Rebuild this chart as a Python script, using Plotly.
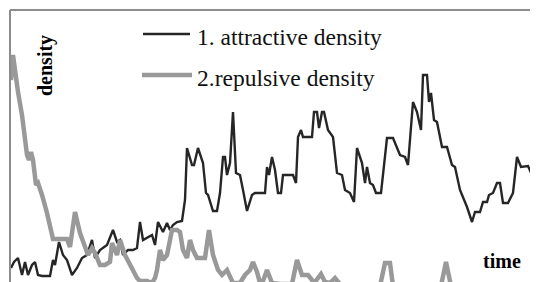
import plotly.graph_objects as go

# Series (time units, density units)
attr_time = [1,4,8,12,15,18,22,25,28,32,40,43,45,49,53,57,62,67,72,77,82,85,90,97,103,107,110,113,118,123,127,130,133,137,142,145,148,153,157,160,163,167,172,175,177,182,184,188,193,196,198,203,207,210,213,215,217,220,223,226,230,233,237,242,245,255,257,259,262,265,268,271,273,283,286,288,291,293,302,304,307,309,312,314,318,323,327,332,335,340,344,347,352,355,357,360,363,366,371,377,383,390,395,398,403,407,411,413,417,419,421,424,427,432,437,442,445,450,457,462,465,470,473,477,479,483,487,490,493,498,503,507,511,518,522,528]
attr_val = [14,20,24,7,20,7,17,20,7,6,6,22,17,40,27,22,7,14,24,27,42,24,32,37,52,40,42,27,32,32,34,60,42,44,47,37,60,50,59,52,57,60,61,82,134,117,117,134,119,89,87,71,71,89,125,125,107,119,170,109,107,92,71,87,89,89,115,107,125,112,89,89,107,107,99,145,152,145,145,170,170,154,170,170,152,145,109,107,92,89,80,134,119,99,115,99,97,89,89,144,144,127,125,117,180,170,152,207,207,180,189,162,160,135,135,117,115,92,75,60,70,70,80,80,87,89,99,99,79,79,89,125,115,116,107,107]

rep_time = [1,3,8,12,17,19,21,23,26,28,32,37,43,57,60,65,70,75,78,82,85,90,95,100,102,107,110,115,120,123,127,130,137,142,145,147,150,153,157,162,167,170,173,177,180,183,187,190,195,199,203,208,212,217,223,230,235,240,243,247,250,253,257,262,270,282,287,292,298,302,305,311,315,320,325,330,370,375,380,383,431,436,441,528]
rep_val = [202,227,190,167,127,122,130,122,97,99,87,69,43,43,35,70,49,34,27,34,29,17,17,20,39,27,42,27,17,12,4,1,1,-1,4,12,32,22,27,52,52,50,32,24,42,32,24,24,24,52,27,12,7,12,-1,-1,7,12,20,10,-1,1,12,-1,-2,-2,22,7,7,2,0,8,0,-1,4,-2,-4,19,19,-4,-4,20,-4,-4]

fig = go.Figure()
fig.add_trace(go.Scatter(x=attr_time, y=attr_val, mode="lines",
                         line=dict(color="#262626", width=2.4), showlegend=False))
fig.add_trace(go.Scatter(x=rep_time, y=rep_val, mode="lines",
                         line=dict(color="#999999", width=4.5), showlegend=False))

# page has an 8px body margin; target plot area spans page x 10..538, y 10..282
OFF = 8
W, H = 538 - OFF, 282 - OFF
L, T = 10 - OFF, 10 - OFF
pw, ph = W - L, H - T

def px(x):
    return (x - 10) / pw

def py(y):
    return (282 - y) / ph

serif = "Liberation Serif, Times New Roman, serif"
frame = "#8c8c8c"

# frame: left and top edges
fig.add_shape(type="line", xref="paper", yref="paper", x0=0, x1=0, y0=-0.05, y1=1,
              line=dict(color=frame, width=2))
fig.add_shape(type="line", xref="paper", yref="paper", x0=0, x1=1.02, y0=1, y1=1,
              line=dict(color=frame, width=2))

# legend drawn as line samples + labels
fig.add_shape(type="line", xref="paper", yref="paper", x0=px(143), x1=px(190),
              y0=py(34), y1=py(34), line=dict(color="#262626", width=2.4))
fig.add_shape(type="line", xref="paper", yref="paper", x0=px(142), x1=px(192),
              y0=py(75), y1=py(75), line=dict(color="#999999", width=4.5))
fig.add_annotation(xref="paper", yref="paper", x=px(195), y=py(37), text="1. attractive density",
                   showarrow=False, xanchor="left", yanchor="middle",
                   font=dict(family=serif, size=23.5, color="#111111"))
fig.add_annotation(xref="paper", yref="paper", x=px(195), y=py(78), text="2.repulsive density",
                   showarrow=False, xanchor="left", yanchor="middle",
                   font=dict(family=serif, size=23.5, color="#111111"))
fig.add_annotation(xref="paper", yref="paper", x=px(45), y=py(66), text="<b>density</b>",
                   showarrow=False, textangle=-90, xanchor="center", yanchor="middle",
                   font=dict(family=serif, size=20, color="#000000"))
fig.add_annotation(xref="paper", yref="paper", x=px(502), y=py(261), text="<b>time</b>",
                   showarrow=False, xanchor="center", yanchor="middle",
                   font=dict(family=serif, size=20, color="#000000"))

fig.update_layout(
    width=W, height=H,
    margin=dict(l=L, r=0, t=T, b=0, autoexpand=False),
    paper_bgcolor="white", plot_bgcolor="white",
    xaxis=dict(range=[0, pw], showline=False, showgrid=False, zeroline=False,
               showticklabels=False, ticks=""),
    yaxis=dict(range=[0, ph], showline=False, showgrid=False, zeroline=False,
               showticklabels=False, ticks=""),
)

fig.write_html("out.html")
